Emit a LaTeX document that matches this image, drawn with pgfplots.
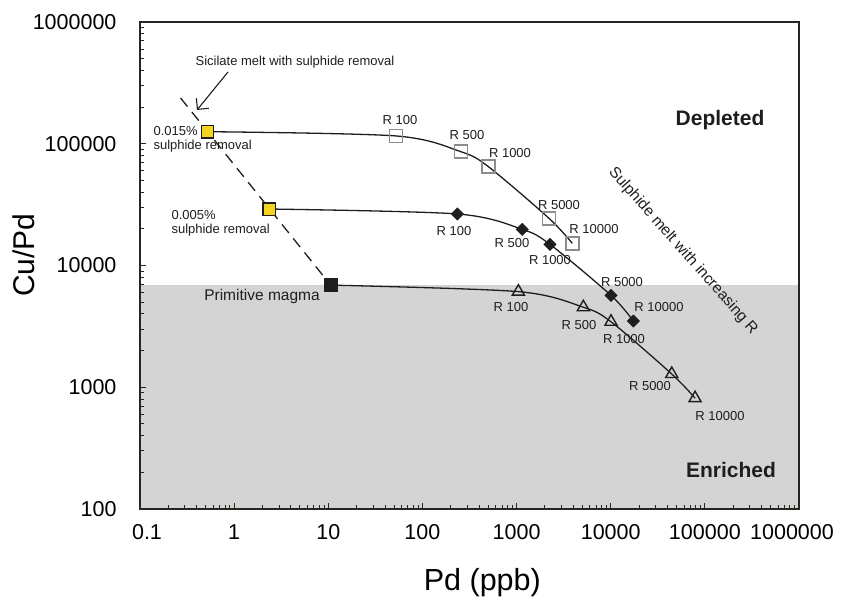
\documentclass[border=0pt]{standalone}
\usepackage{pgfplots}
\pgfplotsset{compat=1.18}
\usepackage{fontspec}
\setmainfont{Liberation Sans}
\usetikzlibrary{arrows.meta}
\definecolor{shade}{RGB}{212,212,212}
\definecolor{sqgray}{RGB}{140,140,140}
\definecolor{yel}{RGB}{245,212,30}
\definecolor{ln}{RGB}{30,30,30}
\definecolor{frm}{RGB}{40,36,32}
\begin{document}
\begin{tikzpicture}
\path[use as bounding box] (0,0) rectangle (843pt,602pt);
\begin{axis}[
  at={(140pt,93pt)}, anchor=south west,
  scale only axis, width=659pt, height=487pt,
  xmode=log, ymode=log,
  xmin=0.1, xmax=1000000, ymin=100, ymax=1000000,
  xtick={0.1,1,10,100,1000,10000,100000,1000000},
  xticklabels={\hspace*{14pt}0.1,1,10,100,1000,10000,100000,1000000\hspace*{14pt}},
  ytick={100,1000,10000,100000,1000000},
  yticklabels={100,1000,10000,100000,1000000},
  /pgf/number format/assume math mode=true,
  tick pos=left, tick align=inside,
  major tick length=6pt, minor tick length=4pt,
  every tick/.style={frm, line width=0.9pt},
  axis line style={frm, line width=2.5pt},
  ticklabel style={font=\fontsize{21.5}{24}\selectfont},
  xticklabel style={yshift=-12pt},
  yticklabel style={xshift=-20pt},
  xlabel={Pd (ppb)}, ylabel={Cu/Pd},
  xlabel style={at={(axis description cs:0.5195,-0.152)}, anchor=center, font=\fontsize{30.5}{36}\selectfont},
  ylabel style={at={(axis description cs:-0.176,0.521)}, anchor=center, font=\fontsize{30}{36}\selectfont},
  axis on top,
]
\addplot[draw=none, fill=shade] coordinates {(0.1,100) (1000000,100) (1000000,6900) (0.1,6900)} -- cycle;
\addplot[ln, line width=1.3pt, dash pattern=on 11pt off 7pt] coordinates {(0.27,237500) (10.6,6900)};
\addplot[ln, line width=1.3pt, smooth] coordinates {(0.52,125600) (52.4,115900) (255,86100) (501,64900) (2210,24400) (3910,15200)};
\addplot[ln, line width=1.3pt, smooth] coordinates {(2.35,29100) (235,26500) (1151,19800) (2265,14900) (10070,5680) (17400,3500)};
\addplot[ln, line width=1.3pt, smooth] coordinates {(10.6,6900) (1045,6100) (5120,4540) (10070,3450) (44500,1285) (78700,813)};
\addplot[only marks, mark=square, mark size=6.5pt, mark options={draw=sqgray, line width=1.4pt}] coordinates {(52.4,115900) (255,86100) (501,64900) (2210,24400) (3910,15200)};
\addplot[only marks, mark=square*, mark size=4.4pt, mark options={fill=ln, draw=ln, rotate=45}] coordinates {(235,26500) (1151,19800) (2265,14900) (10070,5680) (17400,3500)};
\addplot[only marks, mark=triangle, mark size=7pt, mark options={draw=ln, line width=1.4pt}] coordinates {(1045,6100) (5120,4540) (10070,3450) (44500,1285) (78700,813)};
\addplot[only marks, mark=square*, mark size=6.2pt, mark options={fill=yel, draw=ln, line width=1.4pt}] coordinates {(0.52,125600) (2.35,29100)};
\addplot[only marks, mark=square*, mark size=6.5pt, mark options={fill=ln, draw=ln}] coordinates {(10.6,6900)};
\end{axis}
\begin{scope}[font=\fontsize{13}{15}\selectfont, text=ln]
\node at (295pt,540pt) {Sicilate melt with sulphide removal};
\draw[ln, line width=1.1pt, -{Straight Barb[length=8pt,width=16pt]}] (228pt,530pt) -- (197pt,492pt);
\node[anchor=west] at (150pt,471pt) {0.015\%};
\node[anchor=west] at (150pt,456pt) {sulphide removal};
\node[anchor=west] at (168pt,387pt) {0.005\%};
\node[anchor=west] at (168pt,372pt) {sulphide removal};
\node[font=\fontsize{15.5}{18}\selectfont] at (262pt,306pt) {Primitive magma};
\node at (400pt,482pt) {R 100};
\node at (467pt,467pt) {R 500};
\node at (510pt,449pt) {R 1000};
\node at (559pt,397pt) {R 5000};
\node at (594pt,373pt) {R 10000};
\node at (454pt,371pt) {R 100};
\node at (512pt,359pt) {R 500};
\node at (550pt,342pt) {R 1000};
\node at (622pt,320pt) {R 5000};
\node at (659pt,295pt) {R 10000};
\node at (511pt,295pt) {R 100};
\node at (579pt,277pt) {R 500};
\node at (624pt,263pt) {R 1000};
\node at (650pt,216pt) {R 5000};
\node at (720pt,186pt) {R 10000};
\node[font=\fontsize{15.5}{18}\selectfont, rotate=-48.5] at (683pt,351pt) {Sulphide melt with increasing R};
\node[font=\bfseries\fontsize{21}{24}\selectfont] at (720pt,482pt) {Depleted};
\node[font=\bfseries\fontsize{21}{24}\selectfont] at (731pt,132pt) {Enriched};
\end{scope}
\end{tikzpicture}
\end{document}
